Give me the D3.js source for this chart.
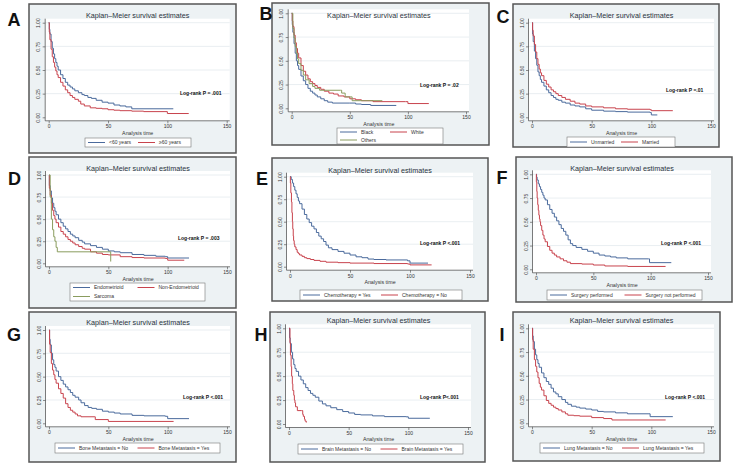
<!DOCTYPE html>
<html>
<head>
<meta charset="utf-8">
<script src="https://cdn.jsdelivr.net/npm/d3@7"></script>
<style>
  body { margin: 0; background: #fff; }
  svg text { font-family: "Liberation Sans", Arial, sans-serif; }
</style>
</head>
<body>
<div id="chart"></div>
<script>
// ---- data: [analysis time, survival] ----
const panelLetters = ["A", "B", "C", "D", "E", "F", "G", "H", "I"];
const logRankLabels = ["Log-rank P = .001", "Log-rank P = .02", "Log-rank P =.01",
  "Log-rank P = .003", "Log-rank P <.001", "Log-rank P <.001",
  "Log-rank P <.001", "Log-rank P<.001", "Log-rank P <.001"];
const legendLabels = [
  ["<60 years", "\u226560 years"],
  ["Black", "White", "Others"],
  ["Unmarried", "Married"],
  ["Endometrioid", "Non-Endometrioid", "Sarcoma"],
  ["Chemotherapy = Yes", "Chemotherapy = No"],
  ["Surgery performed", "Surgery not performed"],
  ["Bone Metastasis = No", "Bone Metastasis = Yes"],
  ["Brain Metastasis = No", "Brain Metastasis = Yes"],
  ["Lung Metastasis = No", "Lung Metastasis = Yes"]
];
const xTicks = [0, 50, 100, 150];
const yTicks = [0, 0.25, 0.5, 0.75, 1];

const ageUnder60 = [[0,1],[0.5,0.93],[1,0.88],[2,0.8],[3,0.73],[4,0.67],[5,0.62],[6,0.58],[7,0.54],[8,0.5],[10,0.45],[12,0.41],[14,0.37],[16,0.34],[18,0.32],[20,0.3],[22,0.28],[25,0.26],[28,0.24],[30,0.23],[33,0.21],[36,0.2],[40,0.18],[45,0.16],[50,0.15],[55,0.13],[60,0.12],[65,0.11],[70,0.09],[105,0.09]];
const ageOver60 = [[0,1],[0.5,0.9],[1,0.82],[2,0.72],[3,0.64],[4,0.58],[5,0.53],[6,0.49],[7,0.45],[8,0.42],[10,0.37],[12,0.33],[14,0.29],[16,0.26],[18,0.23],[20,0.21],[22,0.19],[25,0.17],[27,0.14],[30,0.12],[35,0.1],[40,0.095],[45,0.09],[50,0.08],[55,0.075],[60,0.07],[70,0.065],[80,0.06],[98,0.06],[100,0.04],[118,0.04]];

const raceBlack = [[0,1],[0.5,0.88],[1,0.8],[2,0.68],[3,0.58],[4,0.5],[5,0.45],[6,0.41],[8,0.34],[10,0.29],[12,0.25],[14,0.21],[16,0.18],[18,0.16],[20,0.14],[22,0.12],[25,0.1],[28,0.08],[31,0.065],[35,0.055],[50,0.055],[55,0.045],[60,0.04],[68,0.03],[90,0.03]];
const raceWhite = [[0,1],[0.5,0.92],[1,0.86],[2,0.77],[3,0.69],[4,0.63],[5,0.58],[6,0.53],[8,0.45],[10,0.39],[12,0.35],[14,0.31],[16,0.28],[18,0.26],[20,0.24],[22,0.22],[25,0.2],[28,0.18],[32,0.16],[36,0.15],[40,0.13],[45,0.12],[50,0.1],[55,0.09],[60,0.08],[70,0.07],[98,0.07],[100,0.05],[118,0.05]];
const raceOthers = [[0,1],[1,0.84],[2,0.74],[3,0.65],[4,0.58],[5,0.52],[6,0.47],[8,0.4],[10,0.35],[12,0.3],[15,0.26],[18,0.23],[20,0.21],[24,0.19],[42,0.19],[43,0.16],[46,0.12],[52,0.08],[78,0.08]];

const unmarried = [[0,1],[0.5,0.88],[1,0.8],[2,0.7],[3,0.62],[4,0.55],[5,0.48],[6,0.44],[7,0.4],[8,0.37],[10,0.33],[12,0.29],[14,0.26],[16,0.23],[18,0.21],[20,0.19],[22,0.18],[25,0.16],[28,0.15],[32,0.13],[36,0.12],[40,0.11],[45,0.09],[50,0.075],[60,0.065],[70,0.06],[80,0.055],[99,0.05],[100,0.025],[105,0.025]];
const married = [[0,1],[0.5,0.92],[1,0.86],[2,0.77],[3,0.69],[4,0.62],[5,0.56],[6,0.51],[7,0.47],[8,0.44],[10,0.39],[12,0.35],[14,0.32],[16,0.29],[18,0.27],[20,0.25],[22,0.23],[25,0.21],[28,0.19],[32,0.17],[36,0.15],[40,0.14],[45,0.12],[50,0.11],[60,0.1],[70,0.09],[80,0.085],[99,0.08],[100,0.07],[118,0.07]];

const endometrioid = [[0,1],[0.3,0.88],[1,0.82],[2,0.74],[3,0.68],[4,0.63],[5,0.59],[6,0.55],[8,0.5],[10,0.46],[12,0.42],[14,0.39],[16,0.36],[18,0.33],[20,0.31],[22,0.29],[25,0.26],[28,0.24],[30,0.22],[35,0.2],[40,0.18],[45,0.16],[50,0.14],[55,0.13],[60,0.12],[70,0.1],[80,0.09],[90,0.08],[98,0.075],[100,0.06],[118,0.06]];
const nonEndometrioid = [[0,1],[0.3,0.85],[1,0.77],[2,0.68],[3,0.6],[4,0.54],[5,0.5],[6,0.46],[8,0.41],[10,0.36],[12,0.33],[14,0.3],[16,0.27],[18,0.25],[20,0.23],[22,0.21],[25,0.19],[28,0.17],[30,0.16],[35,0.13],[40,0.115],[45,0.1],[50,0.095],[60,0.075],[70,0.065],[80,0.06],[98,0.055],[100,0.035],[114,0.035]];
const sarcoma = [[0,1],[1,0.75],[2,0.5],[3,0.38],[4,0.3],[5,0.25],[6,0.18],[7,0.13],[52,0.02]];

const chemoYes = [[0,1],[1,0.97],[2,0.93],[3,0.89],[4,0.85],[5,0.81],[6,0.77],[7,0.73],[8,0.7],[10,0.64],[12,0.58],[14,0.53],[16,0.49],[18,0.45],[20,0.42],[22,0.38],[24,0.34],[26,0.31],[28,0.28],[30,0.24],[32,0.21],[35,0.19],[40,0.17],[45,0.15],[50,0.13],[55,0.11],[60,0.1],[65,0.085],[70,0.08],[80,0.075],[98,0.065],[100,0.04],[115,0.04]];
const chemoNo = [[0,1],[0.3,0.93],[0.7,0.82],[1.2,0.72],[1.6,0.6],[2,0.5],[2.3,0.42],[2.7,0.34],[3,0.29],[3.5,0.25],[4,0.22],[5,0.19],[6,0.16],[7,0.145],[8,0.13],[10,0.115],[12,0.1],[14,0.09],[17,0.08],[20,0.07],[25,0.06],[30,0.05],[40,0.045],[50,0.04],[70,0.035],[98,0.03],[100,0.02],[118,0.02]];

const surgeryYes = [[0,1],[0.5,0.97],[1,0.94],[2,0.9],[3,0.87],[4,0.84],[5,0.81],[6,0.78],[7,0.75],[8,0.73],[10,0.68],[12,0.63],[14,0.59],[16,0.55],[18,0.51],[20,0.47],[22,0.43],[24,0.4],[26,0.36],[28,0.31],[30,0.27],[32,0.25],[35,0.23],[40,0.21],[45,0.19],[50,0.17],[55,0.15],[60,0.14],[65,0.13],[70,0.12],[80,0.11],[98,0.11],[99,0.07],[118,0.07]];
const surgeryNo = [[0,1],[0.3,0.92],[0.7,0.82],[1,0.75],[1.5,0.68],[2,0.62],[2.5,0.57],[3,0.53],[3.5,0.5],[4,0.46],[5,0.41],[6,0.36],[7,0.32],[8,0.29],[10,0.24],[12,0.2],[14,0.17],[16,0.15],[18,0.13],[21,0.11],[24,0.09],[27,0.075],[30,0.06],[40,0.055],[50,0.045],[60,0.035],[80,0.03],[113,0.03]];

const boneNo = [[0,1],[0.5,0.9],[1,0.84],[2,0.75],[3,0.68],[4,0.63],[5,0.6],[6,0.56],[8,0.5],[10,0.46],[12,0.42],[14,0.39],[16,0.36],[18,0.33],[20,0.3],[22,0.28],[25,0.25],[27,0.22],[30,0.19],[33,0.17],[36,0.16],[40,0.15],[45,0.13],[50,0.12],[55,0.11],[60,0.1],[70,0.085],[80,0.08],[98,0.075],[100,0.05],[118,0.05]];
const boneYes = [[0,1],[0.5,0.85],[1,0.76],[2,0.64],[3,0.57],[4,0.52],[5,0.47],[6,0.43],[8,0.37],[10,0.32],[12,0.27],[14,0.21],[16,0.17],[18,0.14],[20,0.12],[22,0.1],[24,0.08],[27,0.07],[38,0.07],[39,0.04],[50,0.02],[105,0.02]];

const brainNo = [[0,1],[0.5,0.9],[1,0.84],[2,0.75],[3,0.68],[4,0.62],[5,0.58],[6,0.55],[8,0.5],[10,0.46],[12,0.42],[14,0.38],[16,0.35],[18,0.32],[20,0.3],[22,0.28],[25,0.24],[28,0.21],[31,0.19],[35,0.17],[40,0.15],[45,0.13],[50,0.115],[55,0.1],[60,0.095],[70,0.085],[80,0.077],[98,0.075],[100,0.06],[118,0.06]];
const brainYes = [[0,1],[0.8,0.85],[1.2,0.72],[1.8,0.6],[2.2,0.5],[2.8,0.42],[3.2,0.35],[4,0.3],[4.5,0.25],[5,0.22],[5.5,0.18],[7,0.14],[10.5,0.14],[11.5,0.1],[12,0.08],[13,0.05],[13.5,0.03],[14.5,0.015]];

const lungNo = [[0,1],[0.5,0.92],[1,0.86],[2,0.78],[3,0.72],[4,0.67],[5,0.63],[6,0.59],[8,0.53],[10,0.48],[12,0.44],[14,0.41],[16,0.37],[18,0.33],[20,0.31],[22,0.28],[25,0.25],[28,0.22],[30,0.2],[33,0.18],[37,0.17],[40,0.16],[45,0.15],[50,0.14],[55,0.125],[60,0.12],[70,0.11],[80,0.1],[98,0.1],[99,0.07],[118,0.07]];
const lungYes = [[0,1],[0.5,0.88],[1,0.78],[2,0.67],[3,0.6],[4,0.54],[5,0.48],[6,0.42],[7,0.38],[8,0.35],[10,0.29],[12,0.24],[14,0.21],[16,0.19],[18,0.17],[20,0.155],[22,0.14],[25,0.12],[28,0.1],[30,0.085],[35,0.08],[40,0.075],[50,0.06],[60,0.05],[67,0.035],[112,0.035]];

const panelCurves = [
  [ageUnder60, ageOver60],
  [raceBlack, raceWhite, raceOthers],
  [unmarried, married],
  [endometrioid, nonEndometrioid, sarcoma],
  [chemoYes, chemoNo],
  [surgeryYes, surgeryNo],
  [boneNo, boneYes],
  [brainNo, brainYes],
  [lungNo, lungYes]
];

// ---- layout of each panel (pixels) ----
const layout = [
  { frame: [29, 4, 236, 153],   x: [48.7, 226.7], y: [22.7, 117.3], title: 15,  legend: [85, 138, 191, 147],  letter: [14, 26],    lr: [180, 93] },
  { frame: [272, 3, 489, 145],  x: [291.7, 466],  y: [13.3, 108.3], title: 15,  legend: [337, 128, 443, 144], letter: [266, 20],   lr: [420, 85] },
  { frame: [513, 4, 719, 147],  x: [532, 711],    y: [22.7, 117.3], title: 15,  legend: [567, 137, 675, 147], letter: [503, 23],   lr: [666, 90] },
  { frame: [29, 157, 236, 308], x: [49, 227],     y: [175, 263.3],  title: 168, legend: [70, 283, 205, 301],  letter: [14.5, 185], lr: [178, 238] },
  { frame: [272, 158, 488, 301],x: [290, 470],    y: [176.7, 266.7],title: 170, legend: [300, 290, 462, 300], letter: [262, 185],  lr: [420, 243] },
  { frame: [516, 157, 732, 302],x: [536, 708],    y: [174.3, 269.3],title: 168, legend: [547, 290, 702, 300], letter: [502, 184],  lr: [661, 243] },
  { frame: [29, 312, 236, 462], x: [49, 227],     y: [330, 423.3],  title: 322, legend: [55, 443, 220, 453],  letter: [14, 341],   lr: [183, 397] },
  { frame: [270, 312, 485, 462],x: [289, 468],    y: [328.3, 424],  title: 320, legend: [298, 444, 463, 454], letter: [261, 341],  lr: [420, 397] },
  { frame: [513, 312, 720, 461],x: [532, 711],    y: [328.3, 423.3],title: 320, legend: [540, 443, 704, 453], letter: [502, 341],  lr: [665, 397] }
];

const colors = ["#4a6a9c", "#c8434d", "#8a9c5e"];

const svg = d3.select("#chart").append("svg")
  .attr("width", 750)
  .attr("height", 467);

panelCurves.forEach(function(curves, i) {
  const L = layout[i];
  const g = svg.append("g");

  const x = d3.scaleLinear().domain([0, 150]).range(L.x);
  const y = d3.scaleLinear().domain([0, 1]).range([L.y[1], L.y[0]]);
  const axX = L.x[0] - 3.5;
  const axY = L.y[1] + 3.5;
  const plotRight = L.x[1] + 3;
  const plotTop = L.y[0] - 4;

  // graph region + plot region
  g.append("rect")
    .attr("x", L.frame[0]).attr("y", L.frame[1])
    .attr("width", L.frame[2] - L.frame[0]).attr("height", L.frame[3] - L.frame[1])
    .attr("fill", "#edf2f4").attr("stroke", "#555").attr("stroke-width", 1.5);
  g.append("rect")
    .attr("x", axX).attr("y", plotTop)
    .attr("width", plotRight - axX).attr("height", axY - plotTop)
    .attr("fill", "#fff");

  // gridlines
  g.selectAll("line.grid")
    .data(yTicks.slice(1))
    .join("line")
    .attr("class", "grid")
    .attr("x1", axX).attr("x2", plotRight)
    .attr("y1", d => y(d)).attr("y2", d => y(d))
    .attr("stroke", "#e3eaed").attr("stroke-width", 0.8);

  // axes
  const leftAxis = d3.axisLeft(y).tickValues(yTicks).tickFormat(d3.format(".2f"))
    .tickSize(2.5).tickSizeOuter(0);
  const yG = g.append("g")
    .attr("transform", `translate(${axX},0)`)
    .call(leftAxis)
    .attr("font-size", 5).attr("font-family", null);
  yG.select(".domain").remove();
  yG.selectAll("line").attr("stroke", "#444").attr("stroke-width", 0.6);
  yG.selectAll("text")
    .attr("x", null).attr("dy", null)
    .attr("text-anchor", "middle")
    .attr("fill", "#333")
    .attr("transform", "translate(-5,0) rotate(-90)");

  const bottomAxis = d3.axisBottom(x).tickValues(xTicks).tickSize(2.5).tickSizeOuter(0).tickPadding(1.5);
  const xG = g.append("g")
    .attr("transform", `translate(0,${axY})`)
    .call(bottomAxis)
    .attr("font-size", 5).attr("font-family", null);
  xG.select(".domain").remove();
  xG.selectAll("line").attr("stroke", "#444").attr("stroke-width", 0.6);
  xG.selectAll("text").attr("fill", "#333");

  g.append("line")
    .attr("x1", axX).attr("x2", axX).attr("y1", plotTop).attr("y2", axY)
    .attr("stroke", "#444").attr("stroke-width", 0.7);
  g.append("line")
    .attr("x1", axX).attr("x2", plotRight).attr("y1", axY).attr("y2", axY)
    .attr("stroke", "#444").attr("stroke-width", 0.7);

  // survival curves
  const line = d3.line()
    .x(d => x(d[0]))
    .y(d => y(d[1]))
    .curve(d3.curveStepAfter);
  curves.forEach(function(c, k) {
    g.append("path")
      .attr("d", line(c))
      .attr("fill", "none")
      .attr("stroke", colors[k])
      .attr("stroke-width", 1);
  });

  // texts
  const midX = (L.x[0] + L.x[1]) / 2;
  g.append("text")
    .attr("x", midX).attr("y", L.title).attr("dy", "0.35em")
    .attr("text-anchor", "middle")
    .attr("font-size", 7.2).attr("fill", "#2a3340")
    .text("Kaplan\u2013Meier survival estimates");
  g.append("text")
    .attr("x", midX).attr("y", axY + 12).attr("dy", "0.35em")
    .attr("text-anchor", "middle")
    .attr("font-size", 5.3).attr("fill", "#333")
    .text("Analysis time");
  g.append("text")
    .attr("x", L.lr[0]).attr("y", L.lr[1]).attr("dy", "0.35em")
    .attr("font-size", 5).attr("font-weight", "bold").attr("fill", "#111")
    .text(logRankLabels[i]);
  g.append("text")
    .attr("x", L.letter[0]).attr("y", L.letter[1])
    .attr("text-anchor", "middle")
    .attr("font-size", 18).attr("font-weight", "bold").attr("fill", "#111")
    .text(panelLetters[i]);

  // legend
  const lg = L.legend;
  g.append("rect")
    .attr("x", lg[0]).attr("y", lg[1])
    .attr("width", lg[2] - lg[0]).attr("height", lg[3] - lg[1])
    .attr("fill", "#fff").attr("stroke", "#777").attr("stroke-width", 0.6);
  const labels = legendLabels[i];
  const rows = Math.ceil(labels.length / 2);
  const rowH = (lg[3] - lg[1]) / rows;
  const colX = [lg[0] + 3, (lg[0] + lg[2]) / 2];
  labels.forEach(function(lab, k) {
    const cx = colX[k % 2];
    const cy = lg[1] + rowH * (Math.floor(k / 2) + 0.5);
    g.append("line")
      .attr("x1", cx).attr("x2", cx + 17).attr("y1", cy).attr("y2", cy)
      .attr("stroke", colors[k]).attr("stroke-width", 1);
    g.append("text")
      .attr("x", cx + 21).attr("y", cy).attr("dy", "0.35em")
      .attr("font-size", 5).attr("fill", "#333")
      .text(lab);
  });
});
</script>
</body>
</html>
